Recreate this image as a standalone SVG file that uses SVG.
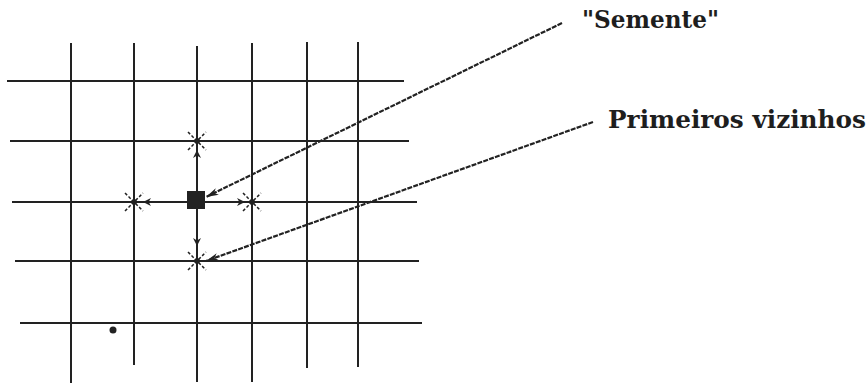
<svg xmlns="http://www.w3.org/2000/svg" width="868" height="384" viewBox="0 0 868 384">
<defs>
<style>
.g{stroke:#222;stroke-width:2;fill:none}
.d{stroke:#222;stroke-width:2.2;fill:none;stroke-dasharray:5 1.2}
.s{stroke:#222;stroke-width:1.5;stroke-dasharray:3 2;fill:none}
.t{font-family:"DejaVu Serif","Liberation Serif",serif;font-weight:bold;fill:#1e1e1e}
</style>
<marker id="ah" viewBox="0 0 10 10" refX="10" refY="5" markerWidth="10" markerHeight="8" markerUnits="userSpaceOnUse" orient="auto">
<path d="M0,0 L10,5 L0,10 L3,5 Z" fill="#222"/>
</marker>
<marker id="oh" viewBox="0 0 14 10" refX="14" refY="5" markerWidth="14" markerHeight="9" markerUnits="userSpaceOnUse" orient="auto">
<path d="M0,1 L14,5 L0,9 L4,5 Z" fill="#222"/>
</marker>
<g id="star">
<path class="s" d="M-9,-9 L9,9 M-9,9 L9,-9"/>
<circle r="2.8" fill="#222"/>
</g>
</defs>
<rect width="868" height="384" fill="#fff"/>
<g id="grid">
<line class="g" x1="71" y1="43" x2="71" y2="383"/>
<line class="g" x1="134" y1="43" x2="134" y2="365"/>
<line class="g" x1="197" y1="46" x2="197" y2="382"/>
<line class="g" x1="252" y1="43" x2="252" y2="382"/>
<line class="g" x1="307" y1="42" x2="307" y2="368"/>
<line class="g" x1="358" y1="42" x2="358" y2="367"/>
<line class="g" x1="7" y1="81" x2="404" y2="81"/>
<line class="g" x1="10" y1="141" x2="409" y2="141"/>
<line class="g" x1="12" y1="202" x2="417" y2="202"/>
<line class="g" x1="15" y1="261" x2="419" y2="261"/>
<line class="g" x1="20" y1="323" x2="422" y2="323"/>
</g>
<g id="seed">
<rect x="187" y="191" width="18" height="18" fill="#222"/>
</g>
<g id="neighbours">
<use href="#star" x="197" y="141"/>
<use href="#star" x="134" y="202"/>
<use href="#star" x="252" y="202"/>
<use href="#star" x="197" y="261"/>
</g>
<g id="dot">
<circle cx="113" cy="330" r="3.5" fill="#222"/>
</g>
<g id="connectors">
<line class="g" x1="197" y1="192" x2="197" y2="150" marker-end="url(#ah)"/>
<line class="g" x1="188" y1="202" x2="143" y2="202" marker-end="url(#ah)"/>
<line class="g" x1="205" y1="202" x2="245" y2="202" marker-end="url(#ah)"/>
<line class="g" x1="197" y1="209" x2="197" y2="246" marker-end="url(#ah)"/>
<line class="d" x1="562" y1="23" x2="206" y2="197" marker-end="url(#oh)"/>
<line class="d" x1="593" y1="122" x2="206" y2="261" marker-end="url(#oh)"/>
</g>
<g id="labels">
<text class="t" x="582" y="28" font-size="24" textLength="137" lengthAdjust="spacingAndGlyphs">"Semente"</text>
<text class="t" x="608" y="128" font-size="25" textLength="258" lengthAdjust="spacingAndGlyphs">Primeiros vizinhos</text>
</g>
</svg>
